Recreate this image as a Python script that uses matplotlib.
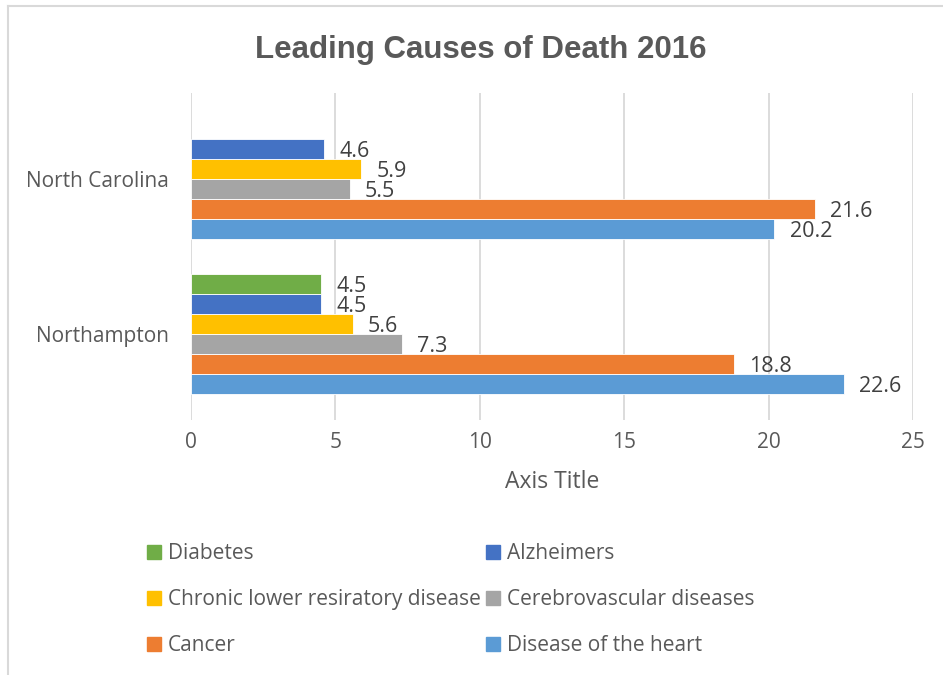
import numpy as np
import matplotlib.pyplot as plt
from matplotlib.lines import Line2D

# categories (bottom to top) and series
regions = ['Northampton', 'North Carolina']
series = ['Disease of the heart', 'Cancer', 'Cerebrovascular diseases',
          'Chronic lower resiratory disease', 'Alzheimers', 'Diabetes']
values = {
    'Disease of the heart': [22.6, 20.2],
    'Cancer': [18.8, 21.6],
    'Cerebrovascular diseases': [7.3, 5.5],
    'Chronic lower resiratory disease': [5.6, 5.9],
    'Alzheimers': [4.5, 4.6],
    'Diabetes': [4.5, np.nan],
}
colors = {
    'Disease of the heart': '#5B9BD5',
    'Cancer': '#ED7D31',
    'Cerebrovascular diseases': '#A5A5A5',
    'Chronic lower resiratory disease': '#FFC000',
    'Alzheimers': '#4472C4',
    'Diabetes': '#70AD47',
}
legend_order = ['Diabetes', 'Chronic lower resiratory disease', 'Cancer',
                'Alzheimers', 'Cerebrovascular diseases', 'Disease of the heart']

txt = '#595959'
plt.rcParams['font.family'] = ['Open Sans', 'DejaVu Sans']

fig = plt.figure(figsize=(9.43, 6.75), dpi=100)
ax = fig.add_axes([191 / 943, 1 - 420 / 675, 722 / 943, 327 / 675])

y = np.arange(len(regions))
h = 0.129
for i, s in enumerate(series):
    off = (i - 2.5) * h
    vals = np.array(values[s], dtype=float)
    ax.barh(y + off, vals, height=h, color=colors[s],
            edgecolor='white', linewidth=0.6, zorder=3)
    for yy, v in zip(y + off, vals):
        if np.isnan(v):
            continue
        ax.annotate(f'{v:.1f}', (v, yy), xytext=(11, -2), textcoords='offset points',
                    ha='left', va='center', fontsize=15.5, color='#404040')

ax.set_xlim(0, 25)
ax.set_ylim(-0.555, 1.555)
ax.set_xticks(np.arange(0, 26, 5))
ax.set_yticks(y)
ax.set_yticklabels(regions)
ax.tick_params(length=0, labelsize=15, labelcolor=txt)
ax.tick_params(axis='x', pad=9)
ax.tick_params(axis='y', pad=16)
ax.grid(axis='x', color='#D9D9D9', linewidth=1.3, zorder=0)
for sp in ax.spines.values():
    sp.set_visible(False)
ax.set_xlabel('Axis Title', fontsize=16.5, color=txt, labelpad=12)

fig.text(0.51, 0.926, 'Leading Causes of Death 2016', ha='center', va='center',
         fontsize=22.5, fontweight='bold', color=txt,
         family=['Liberation Sans', 'DejaVu Sans'])

handles = [Line2D([], [], marker='s', linestyle='none', markersize=10,
                  markerfacecolor=colors[s], markeredgecolor=colors[s]) for s in legend_order]
fig.legend(handles, legend_order, ncol=2, loc='upper left',
           bbox_to_anchor=(138 / 943, 1 - 535 / 675), frameon=False,
           fontsize=15, labelcolor=txt, handlelength=0.75, handletextpad=0.3,
           columnspacing=0.2, labelspacing=1.2, borderaxespad=0)

# chart border
fig.add_artist(Line2D([8 / 943, 8 / 943], [0, 1 - 6 / 675], transform=fig.transFigure,
                      color='#D9D9D9', linewidth=1.5))
fig.add_artist(Line2D([8 / 943, 1], [1 - 6 / 675, 1 - 6 / 675], transform=fig.transFigure,
                      color='#D9D9D9', linewidth=1.5))

fig.savefig('out.png', dpi=100)
